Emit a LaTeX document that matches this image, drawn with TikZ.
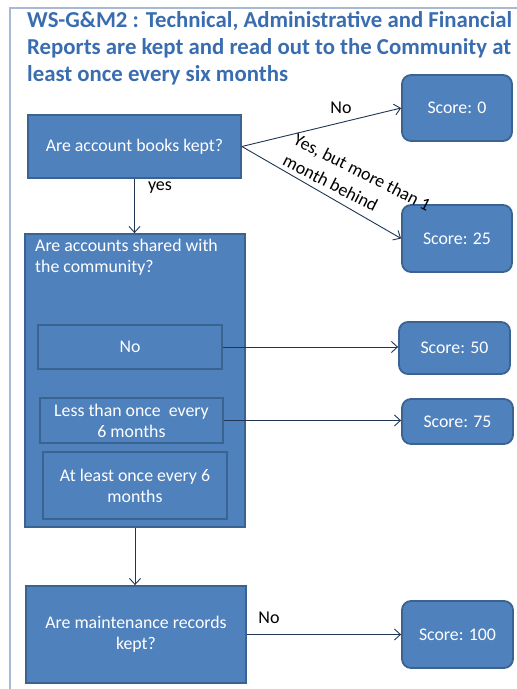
\documentclass[tikz,border=0pt]{standalone}
\usepackage{fontspec}
\setmainfont{Carlito}
\usetikzlibrary{arrows.meta}

\definecolor{boxfill}{HTML}{4F81BD}
\definecolor{boxedge}{HTML}{3A6391}
\definecolor{titleblue}{HTML}{3A6DB0}
\definecolor{framecol}{HTML}{A7B9D3}
\definecolor{linkcol}{HTML}{1F3553}

\tikzset{
  qbox/.style={draw=boxedge, line width=1.8pt, fill=boxfill, text=white,
    font=\fontsize{17.8}{21}\selectfont, align=center, inner sep=0pt},
  scorebox/.style={qbox, rounded corners=9pt},
  link/.style={draw=linkcol, line width=0.9pt,
    -{Straight Barb[length=6pt,width=11pt,line width=0.9pt]}},
  lbl/.style={text=black, font=\fontsize{18}{24}\selectfont, inner sep=0pt},
}

\begin{document}
\begin{tikzpicture}[x=1pt,y=-1pt]
  \useasboundingbox (0,0) rectangle (517,689);
  \begin{scope}
    \clip (0,0) rectangle (517,689);
    % tail of the slide heading above the frame
    \node[anchor=base west, font=\fontsize{30}{30}\selectfont, text=black!80, inner sep=0pt] (hd) at (86,-6) {g};
    % frame of the content area
    \draw[framecol, line width=1.8pt] (10,689) -- (10,8) -- (517,8);
  \end{scope}

  % heading
  \node[anchor=north west, align=left, text=titleblue, inner sep=0pt,
        font=\bfseries\fontsize{22.8}{27}\selectfont] (title) at (27,11)
    {WS-G\&M2 : Technical, Administrative and Financial\\
     Reports are kept and read out to the Community at\\
     least once every six months};

  % questions
  \node[qbox, minimum width=213pt, minimum height=63pt] (books) at (134.5,146.5) {Are account books kept?};
  \node[qbox, minimum width=220pt, minimum height=293pt] (shared) at (135,380.5) {};
  \node[anchor=north west, align=left, text=white, inner sep=0pt,
        font=\fontsize{17.8}{21}\selectfont] (sharedtxt) at (35,239)
    {Are accounts shared with\\the community?};
  \node[qbox, minimum width=184pt, minimum height=44pt] (optno) at (130,347) {No};
  \node[qbox, minimum width=183pt, minimum height=45pt] (optless) at (131.5,420.5)
    {Less than once\ \ every\\6 months};
  \node[qbox, minimum width=184pt, minimum height=67pt] (optleast) at (135,485.5)
    {At least once every 6\\months};
  \node[qbox, minimum width=220pt, minimum height=97pt] (maint) at (136,634.5)
    {Are maintenance records\\kept?};

  % scores
  \node[scorebox, minimum width=110pt, minimum height=66pt] (s0) at (457,108) {Score: 0};
  \node[scorebox, minimum width=110pt, minimum height=67pt] (s25) at (457,238.5) {Score: 25};
  \node[scorebox, minimum width=111pt, minimum height=52pt] (s50) at (454.5,348) {Score: 50};
  \node[scorebox, minimum width=111pt, minimum height=45pt] (s75) at (457.5,421.5) {Score: 75};
  \node[scorebox, minimum width=111pt, minimum height=67pt] (s100) at (457.5,634.5) {Score: 100};

  % connectors
  \draw[link] (books.east) -- (s0.west);
  \draw[link] (books.east) -- (s25.west);
  \draw[link] (books.south) -- (books.south |- shared.north);
  \draw[link] (optno.east) -- (optno.east -| s50.west);
  \draw[link] (optless.east) -- (optless.east -| s75.west);
  \draw[link] (shared.south) -- (shared.south |- maint.north);
  \draw[link] (maint.east) -- (s100.west);

  % connector labels
  \node[lbl] (lno1) at (341,108) {No};
  \node[lbl] (lyes) at (160,188) {yes};
  \node[lbl] (lno2) at (269,618) {No};
  \node[lbl, align=left, rotate=-27] (lbehind) at (357,183)
    {Yes, but more than 1\\month behind};
\end{tikzpicture}
\end{document}
